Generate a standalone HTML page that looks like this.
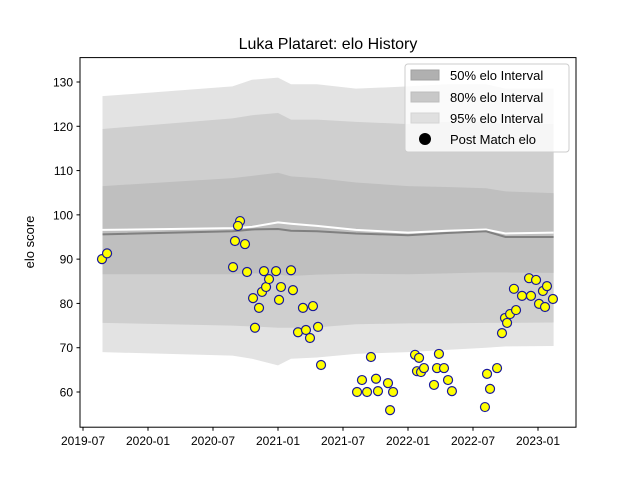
<!DOCTYPE html>
<html><head><meta charset="utf-8"><style>
body{margin:0;background:#fff;}
svg{font-family:"Liberation Sans","DejaVu Sans",sans-serif;}
</style></head><body>
<svg id="chart" width="640" height="480">
<rect width="640" height="480" fill="#fff"/>
<text x="328" y="49" font-size="16" text-anchor="middle">Luka Plataret: elo History</text>
<g id="bands"></g><g id="lines"></g><g id="pts"></g>
<rect x="80" y="57.6" width="496" height="369.6" fill="none" stroke="#000" stroke-width="1"/>
<g id="axes" font-size="12"></g>
<text transform="translate(34,242) rotate(-90)" font-size="13" text-anchor="middle">elo score</text>
<g>
<rect x="405" y="64" width="164" height="88" rx="3" fill="#fff" fill-opacity="0.8" stroke="#ccc"/>
<rect x="411" y="70" width="28" height="10" fill="#b0b0b0" stroke="#a0a0a0"/>
<text x="450" y="80" font-size="13">50% elo Interval</text>
<rect x="411" y="92" width="28" height="10" fill="#c8c8c8" stroke="#bdbdbd"/>
<text x="450" y="102" font-size="13">80% elo Interval</text>
<rect x="411" y="113" width="28" height="10" fill="#e0e0e0" stroke="#d4d4d4"/>
<text x="450" y="123" font-size="13">95% elo Interval</text>
<circle cx="425" cy="139" r="6" fill="#000"/>
<text x="450" y="144" font-size="13">Post Match elo</text>
</g>
</svg>
<script>
const bandYears=[2019.65,2020.65,2020.8,2021.0,2021.1,2021.3,2021.6,2022.0,2022.3,2022.6,2022.75,2023.12];
const upper95=[126.8,129,130.5,131,129.5,129.5,128.5,129,129.5,129.5,128.5,128.5];
const upper80=[119.4,121.8,122.5,123,121.5,121.5,121,120.5,121,121,120.5,120.5];
const upper50=[106.5,108.3,108.8,109.5,108.7,108.3,107.3,106.5,106.3,106,105.3,104.9];
const meanElo=[95.6,96.3,96.7,96.8,96.4,96.3,95.8,95.4,95.9,96.3,95,95];
const expectedElo=[96.6,97.0,97.3,98.3,98.0,97.5,96.6,96.0,96.4,96.7,95.8,96.0];
const lower50=[86.6,86.6,86.8,86.5,86.2,86.5,86.7,86.6,86.8,87,87,86.9];
const lower80=[75.6,75.0,74.8,74.5,74.5,74.6,75.3,75.5,75.5,75.6,75.6,75.7];
const lower95=[69,68.2,67.5,66,67.5,67.8,68.6,69,69.5,70,70.3,70.4];
const matchYears=[2019.646,2019.685,2020.654,2020.669,2020.708,2020.692,2020.746,2020.762,2020.808,2020.823,2020.854,2020.877,2020.892,2020.908,2020.931,2020.985,2021.008,2021.023,2021.100,2021.115,2021.154,2021.192,2021.215,2021.246,2021.269,2021.308,2021.331,2021.608,2021.646,2021.685,2021.715,2021.754,2021.769,2021.846,2021.862,2021.885,2022.054,2022.069,2022.085,2022.100,2022.123,2022.200,2022.223,2022.238,2022.277,2022.308,2022.338,2022.592,2022.608,2022.631,2022.685,2022.723,2022.746,2022.762,2022.785,2022.815,2022.831,2022.877,2022.931,2022.946,2022.985,2023.008,2023.038,2023.054,2023.069,2023.115];
const matchElo=[90.0,91.3,88.2,94.1,98.6,97.5,93.4,87.1,81.2,74.5,79,82.6,87.3,83.7,85.5,87.3,80.8,83.7,87.5,83.0,73.5,79,74,72.2,79.4,74.7,66.1,60,62.7,60,67.9,63,60.2,62,55.9,60,68.4,64.7,67.7,64.5,65.4,61.6,65.4,68.6,65.4,62.7,60.2,56.6,64.1,60.7,65.4,73.3,76.7,75.6,77.6,83.3,78.5,81.7,85.7,81.7,85.3,79.9,82.8,79.2,83.9,81.0];
const xTicks=[2019.5,2020.0,2020.5,2021.0,2021.5,2022.0,2022.5,2023.0];
const xTickLabels=["2019-07","2020-01","2020-07","2021-01","2021-07","2022-01","2022-07","2023-01"];
const yTicks=[60,70,80,90,100,110,120,130];

const NS="http://www.w3.org/2000/svg";
const X=yr=>83+(yr-2019.5)*130;
const Y=v=>392-(v-60)*4.4286;
function mk(tag,attrs,parent){const e=document.createElementNS(NS,tag);for(const k in attrs)e.setAttribute(k,attrs[k]);document.getElementById(parent).appendChild(e);return e;}
function band(up,lo,fill,name){
  let d=bandYears.map((t,i)=>(i?'L':'M')+X(t)+','+Y(up[i])).join('');
  for(let i=bandYears.length-1;i>=0;i--)d+='L'+X(bandYears[i])+','+Y(lo[i]);
  const p=mk('path',{d:d+'Z',fill:fill},'bands');
  
  
}
band(upper95,lower95,'#e3e3e3','band-95');
band(upper80,lower80,'#cfcfcf','band-80');
band(upper50,lower50,'#bfbfbf','band-50');
function line(vals,color,name){
  const p=mk('polyline',{points:bandYears.map((t,i)=>X(t)+','+Y(vals[i])).join(' '),fill:'none',stroke:color,'stroke-width':2},'lines');
  
  
}
line(expectedElo,'#ffffff','expected-elo-line');
line(meanElo,'#808080','mean-elo-line');
matchElo.forEach((v,i)=>{
  const c=mk('circle',{cx:X(matchYears[i]),cy:Y(v),r:4.5,fill:'#ffff00',stroke:'#1a1a99','stroke-width':1.2},'pts');
  
  
});
xTicks.forEach((t,i)=>{
  const x=X(t);
  const l=mk('line',{x1:x,x2:x,y1:427.2,y2:430.7,stroke:'#000'},'axes');
  
  
  const tx=mk('text',{x:x,y:445,'text-anchor':'middle'},'axes');
  tx.textContent=xTickLabels[i];
  
  
});
yTicks.forEach(v=>{
  const y=Y(v);
  const l=mk('line',{x1:76.5,x2:80,y1:y,y2:y,stroke:'#000'},'axes');
  
  
  const tx=mk('text',{x:73,y:y+4.5,'text-anchor':'end'},'axes');
  tx.textContent=v;
  
  
});
</script>
</body></html>
